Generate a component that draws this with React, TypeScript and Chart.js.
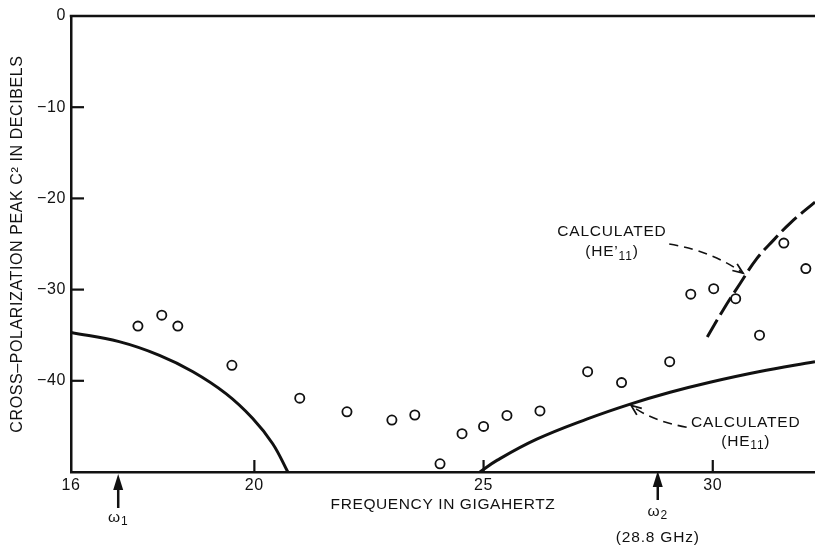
import React, { useEffect, useRef } from "react";
import { Chart, registerables } from "chart.js";

Chart.register(...registerables);

// ---- Data ----
const xTickValues = [16, 20, 25, 30];
const xTickLabels = ["16", "20", "25", "30"];
const yTickValues = [0, -10, -20, -30, -40, -50];
const yTickLabels = ["0", "\u221210", "\u221220", "\u221230", "\u221240", ""];

const measuredFreq = [17.46, 17.98, 18.33, 19.51, 20.99, 22.02, 23.0, 23.5, 24.05, 24.53, 25.0, 25.51, 26.23, 27.27, 28.01, 29.06, 29.52, 30.02, 30.5, 31.02, 31.55, 32.03];
const measuredDb = [-34.0, -32.8, -34.0, -38.3, -41.9, -43.4, -44.3, -43.75, -49.1, -45.8, -45.0, -43.8, -43.3, -39.0, -40.2, -37.9, -30.5, -29.9, -31.0, -35.0, -24.9, -27.7];

const he11LowFreq = [16.0, 17.05, 17.93, 18.66, 19.38, 19.96, 20.4, 20.73];
const he11LowDb = [-34.7, -35.7, -37.2, -39.0, -41.4, -44.1, -46.9, -50.0];

const he11HighFreq = [24.92, 25.3, 26.16, 27.25, 28.2, 29.07, 29.94, 31.0, 32.23];
const he11HighDb = [-50.0, -48.7, -46.4, -44.2, -42.55, -41.25, -40.15, -39.0, -37.9];

const hePrimeFreq = [29.88, 30.23, 30.6, 30.96, 31.32, 31.69, 32.23];
const hePrimeDb = [-35.2, -32.2, -29.3, -26.6, -24.6, -22.7, -20.4];

const markerFreqs = [17.03, 28.8];

const INK = "#111111";
const FONT = "'Liberation Sans', Arial, Helvetica, sans-serif";

const zip = (xs: number[], ys: number[]) => xs.map((x, i) => ({ x, y: ys[i] }));

type Part = { t: string; sub?: boolean };

function drawRich(ctx: CanvasRenderingContext2D, parts: Part[], cx: number, cy: number, size: number) {
  const subSize = Math.round(size * 0.78);
  let w = 0;
  for (const p of parts) {
    ctx.font = `${p.sub ? subSize : size}px ${FONT}`;
    w += ctx.measureText(p.t).width;
  }
  let x = cx - w / 2;
  ctx.textAlign = "left";
  ctx.textBaseline = "middle";
  for (const p of parts) {
    ctx.font = `${p.sub ? subSize : size}px ${FONT}`;
    ctx.fillText(p.t, x, p.sub ? cy + 4 : cy);
    x += ctx.measureText(p.t).width;
  }
}

function dashedArrow(ctx: CanvasRenderingContext2D, sx: number, sy: number, qx: number, qy: number, ex: number, ey: number) {
  ctx.save();
  ctx.strokeStyle = INK;
  ctx.lineWidth = 1.6;
  ctx.setLineDash([9, 6]);
  ctx.beginPath();
  ctx.moveTo(sx, sy);
  ctx.quadraticCurveTo(qx, qy, ex, ey);
  ctx.stroke();
  ctx.setLineDash([]);
  const ang = Math.atan2(ey - qy, ex - qx);
  const L = 11;
  const spread = 0.38;
  ctx.lineWidth = 1.8;
  ctx.beginPath();
  ctx.moveTo(ex - L * Math.cos(ang - spread), ey - L * Math.sin(ang - spread));
  ctx.lineTo(ex, ey);
  ctx.lineTo(ex - L * Math.cos(ang + spread), ey - L * Math.sin(ang + spread));
  ctx.stroke();
  ctx.restore();
}

function upArrow(ctx: CanvasRenderingContext2D, x: number, tipY: number, headLen: number, tailY: number) {
  ctx.save();
  ctx.fillStyle = INK;
  ctx.strokeStyle = INK;
  ctx.lineWidth = 2.5;
  ctx.beginPath();
  ctx.moveTo(x, tipY + headLen - 2);
  ctx.lineTo(x, tailY);
  ctx.stroke();
  ctx.beginPath();
  ctx.moveTo(x, tipY);
  ctx.lineTo(x - 5, tipY + headLen);
  ctx.lineTo(x + 5, tipY + headLen);
  ctx.closePath();
  ctx.fill();
  ctx.restore();
}

const letterSpacingPlugin = {
  id: "letterSpacing",
  beforeDraw(chart: any) {
    const ctx = chart.ctx as any;
    ctx.letterSpacing = "0.6px";
  },
};

const overlayPlugin = {
  id: "overlay",
  afterDraw(chart: any) {
    const ctx: CanvasRenderingContext2D = chart.ctx;
    const xs = chart.scales.x;
    const ys = chart.scales.y;
    const px = (v: number) => xs.getPixelForValue(v);
    const py = (v: number) => ys.getPixelForValue(v);
    const area = chart.chartArea;
    ctx.save();
    ctx.strokeStyle = INK;
    ctx.fillStyle = INK;
    ctx.lineWidth = 2.5;
    ctx.lineCap = "butt";
    // top frame line
    ctx.beginPath();
    ctx.moveTo(area.left - 1.25, area.top);
    ctx.lineTo(chart.width, area.top);
    ctx.stroke();
    // inward tick marks
    ctx.lineWidth = 2.2;
    for (const v of yTickValues) {
      if (v === 0 || v === -50) continue;
      ctx.beginPath();
      ctx.moveTo(area.left, py(v));
      ctx.lineTo(area.left + 13, py(v));
      ctx.stroke();
    }
    for (const v of xTickValues) {
      if (v === 16) continue;
      ctx.beginPath();
      ctx.moveTo(px(v), area.bottom);
      ctx.lineTo(px(v), area.bottom - 12);
      ctx.stroke();
    }

    (ctx as any).letterSpacing = "0.8px";
    // Annotation: CALCULATED (HE'11)
    drawRich(ctx, [{ t: "CALCULATED" }], px(27.8), py(-23.7), 15.5);
    drawRich(ctx, [{ t: "(HE\u2019" }, { t: "11", sub: true }, { t: ")" }], px(27.8), py(-25.9), 15.5);
    dashedArrow(ctx, px(29.05), py(-25.0), px(30.0), py(-25.8), px(30.66), py(-28.2));

    // Annotation: CALCULATED (HE11)
    drawRich(ctx, [{ t: "CALCULATED" }], px(30.72), py(-44.6), 15.5);
    drawRich(ctx, [{ t: "(HE" }, { t: "11", sub: true }, { t: ")" }], px(30.72), py(-46.7), 15.5);
    dashedArrow(ctx, px(29.43), py(-45.1), px(28.65), py(-44.35), px(28.22), py(-42.7));

    // frequency markers
    const b = area.bottom;
    upArrow(ctx, px(markerFreqs[0]), b + 2, 16, b + 36);
    drawRich(ctx, [{ t: "\u03c9" }, { t: "1", sub: true }], px(markerFreqs[0]), b + 46, 15.5);
    upArrow(ctx, px(markerFreqs[1]), b - 1, 16, b + 28);
    drawRich(ctx, [{ t: "\u03c9" }, { t: "2", sub: true }], px(markerFreqs[1]), b + 40, 15.5);
    drawRich(ctx, [{ t: "(28.8 GHz)" }], px(markerFreqs[1]), b + 66, 15.5);
    ctx.restore();
  },
};

export default function App() {
  const canvasRef = useRef<HTMLCanvasElement | null>(null);

  useEffect(() => {
    const canvas = canvasRef.current;
    if (!canvas) return;
    Chart.defaults.font.family = FONT;
    Chart.defaults.color = INK;

    const lineStyle = {
      borderColor: INK,
      borderWidth: 3,
      pointRadius: 0,
      fill: false,
      tension: 0.4,
      showLine: true,
    };

    const chart = new Chart(canvas, {
      type: "scatter",
      data: {
        datasets: [
          { label: "HE11 low", data: zip(he11LowFreq, he11LowDb), ...lineStyle },
          { label: "HE11 high", data: zip(he11HighFreq, he11HighDb), ...lineStyle },
          { label: "HE'11", data: zip(hePrimeFreq, hePrimeDb), ...lineStyle, borderDash: [20, 6] },
          {
            label: "Measured",
            data: zip(measuredFreq, measuredDb),
            showLine: false,
            pointStyle: "circle",
            pointRadius: 4.6,
            pointBorderWidth: 1.8,
            pointBorderColor: INK,
            pointBackgroundColor: "rgba(255,255,255,0)",
            borderColor: INK,
            backgroundColor: "rgba(255,255,255,0)",
          },
        ],
      },
      options: {
        responsive: false,
        animation: false,
        devicePixelRatio: 1,
        layout: { autoPadding: false, padding: { top: 16, left: 0, right: 0, bottom: 0 } },
        plugins: { legend: { display: false }, tooltip: { enabled: false } },
        scales: {
          x: {
            type: "linear",
            min: 16,
            max: 32.23,
            afterBuildTicks: (scale: any) => {
              scale.ticks = xTickValues.map((v) => ({ value: v }));
            },
            afterFit: (scale: any) => {
              scale.height = 73;
            },
            grid: { display: true, drawOnChartArea: false, drawTicks: false },
            border: { display: true, color: INK, width: 2.5 },
            ticks: {
              padding: 4,
              maxRotation: 0,
              autoSkip: false,
              font: { size: 16 },
              color: INK,
              callback: (v: any) => {
                const i = xTickValues.indexOf(Number(v));
                return i >= 0 ? xTickLabels[i] : "";
              },
            },
            title: {
              display: true,
              text: "FREQUENCY IN GIGAHERTZ",
              font: { size: 15.5 },
              color: INK,
              padding: { top: 0, bottom: 31 },
            },
          },
          y: {
            type: "linear",
            min: -50,
            max: 0,
            afterBuildTicks: (scale: any) => {
              scale.ticks = yTickValues.map((v) => ({ value: v }));
            },
            afterFit: (scale: any) => {
              scale.width = 71;
            },
            grid: { display: true, drawOnChartArea: false, drawTicks: false },
            border: { display: true, color: INK, width: 2.5 },
            ticks: {
              padding: 5,
              autoSkip: false,
              font: { size: 16 },
              color: INK,
              callback: (v: any) => {
                const i = yTickValues.indexOf(Number(v));
                return i >= 0 ? yTickLabels[i] : "";
              },
            },
            title: {
              display: true,
              text: "CROSS\u2013POLARIZATION PEAK C\u00b2 IN DECIBELS",
              font: { size: 16 },
              color: INK,
              padding: { top: 8, bottom: 0 },
            },
          },
        },
      },
      plugins: [letterSpacingPlugin, overlayPlugin],
    } as any);

    return () => {
      chart.destroy();
    };
  }, []);

  return (
    <div style={{ position: "fixed", left: 0, top: 0, width: 815, height: 545, background: "#fff" }}>
      <canvas ref={canvasRef} width={815} height={545} style={{ width: 815, height: 545, display: "block" }} />
    </div>
  );
}
